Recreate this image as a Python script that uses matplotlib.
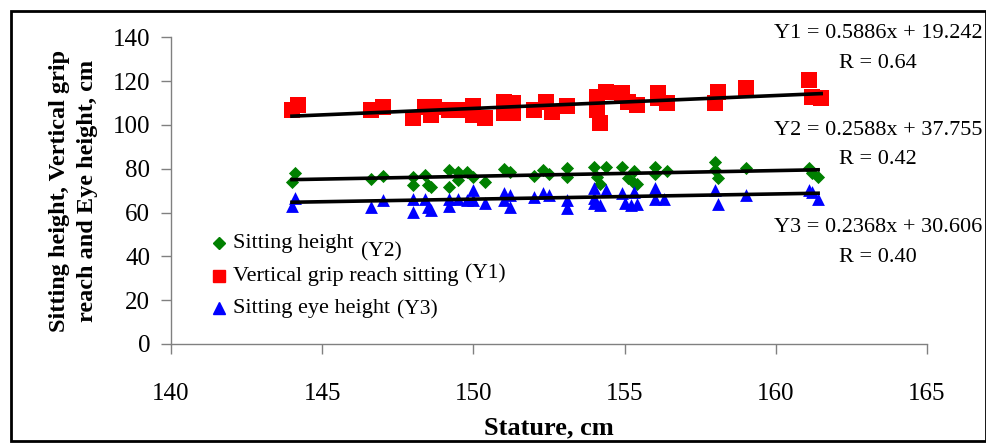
import numpy as np
import matplotlib.pyplot as plt
from matplotlib.patches import Rectangle

plt.rcParams['font.family'] = ['Liberation Serif', 'DejaVu Serif']

# Vertical grip reach sitting (Y1)
x_y1 = [144.0, 144.2, 146.6, 147.0, 148.0, 148.4, 148.6, 148.7, 149.2, 149.6,
        150.0, 150.0, 150.4, 151.0, 151.0, 151.3, 151.3, 152.0, 152.4, 152.6,
        153.1, 154.1, 154.1, 154.2, 154.4, 154.9, 155.1, 155.4, 156.1, 156.1,
        156.4, 158.0, 158.1, 159.0, 161.1, 161.2, 161.5]
y1 = [106.8, 109.1, 106.8, 108.4, 103.3, 108.4, 104.6, 108.4, 106.8, 106.8,
      108.8, 104.4, 103.0, 110.6, 105.3, 109.9, 105.3, 106.8, 110.6, 106.1,
      108.8, 112.9, 106.8, 100.8, 115.2, 114.5, 110.6, 109.1, 114.5, 112.5,
      109.9, 109.9, 115.2, 116.7, 120.5, 112.9, 112.2]

# Sitting height (Y2)
x_y2 = [144.0, 144.1, 146.6, 147.0, 148.0, 148.0, 148.4, 148.5, 148.6, 149.2,
        149.2, 149.5, 149.5, 149.8, 150.0, 150.4, 151.0, 151.2, 152.0, 152.3,
        152.5, 153.1, 153.1, 154.0, 154.1, 154.4, 154.2, 154.9, 155.1, 155.3,
        155.3, 155.4, 156.0, 156.0, 156.4, 158.0, 158.0, 158.1, 159.0, 161.1,
        161.2, 161.4]
y2 = [74.1, 77.9, 75.2, 76.9, 76.4, 72.6, 77.2, 72.6, 71.6, 79.5,
      71.8, 78.7, 74.9, 78.7, 76.4, 74.1, 79.8, 78.7, 76.7, 79.5,
      77.5, 80.2, 76.1, 80.7, 76.4, 81.0, 73.1, 81.0, 75.7, 79.1,
      73.4, 73.1, 81.0, 77.6, 79.1, 83.2, 79.5, 75.7, 80.2, 80.2,
      78.2, 76.4]

# Sitting eye height (Y3)
x_y3 = [144.0, 144.1, 146.6, 147.0, 148.0, 148.0, 148.4, 148.5, 148.6, 149.2,
        149.2, 149.5, 149.8, 150.0, 150.0, 150.4, 151.0, 151.0, 151.2, 151.2,
        152.0, 152.3, 152.5, 153.1, 153.1, 154.0, 154.0, 154.0, 154.2, 154.4,
        154.9, 155.0, 155.2, 155.3, 155.4, 156.0, 156.0, 156.3, 158.0, 158.1,
        159.0, 161.1, 161.2, 161.4]
y3 = [63.0, 66.8, 62.7, 65.8, 66.1, 60.4, 66.1, 62.4, 61.2, 66.1,
      63.2, 66.1, 65.8, 70.3, 65.8, 64.2, 68.8, 65.8, 68.0, 62.7,
      67.3, 68.8, 68.0, 65.8, 62.0, 71.1, 66.5, 64.5, 63.5, 70.3,
      69.1, 64.2, 63.5, 69.5, 63.9, 71.1, 66.1, 66.1, 70.3, 63.9,
      68.0, 70.3, 69.5, 66.1]

# regression equations as printed on the chart
slopes = [0.5886, 0.2588, 0.2368]
intercepts = [19.242, 37.755, 30.606]
r_values = ['0.64', '0.42', '0.40']

fig = plt.figure(figsize=(9.87, 4.43), dpi=100)
ax = fig.add_axes([171/987, 99/443, 756/987, 306.7/443])

ax.scatter(x_y2, y2, marker='D', s=45, color='#008000', zorder=3, linewidths=0)
ax.scatter(x_y1, y1, marker='s', s=130, color='#ff0000', zorder=3, linewidths=0)
ax.scatter(x_y3, y3, marker='^', s=85, color='#0000ff', zorder=3, linewidths=0)

for xs, m, c in zip([x_y1, x_y2, x_y3], slopes, intercepts):
    xl = np.array([min(xs), max(xs)])
    ax.plot(xl, m * xl + c, color='black', lw=2.6, zorder=4)

ax.set_xlim(140, 165)
ax.set_ylim(0, 140)
ax.set_xticks(np.arange(140, 166, 5))
ax.set_yticks(np.arange(0, 141, 20))
for s in ['top', 'right']:
    ax.spines[s].set_visible(False)
for s in ['left', 'bottom']:
    ax.spines[s].set_color('#808080')
    ax.spines[s].set_linewidth(1.0)
ax.tick_params(axis='y', length=7, width=1, color='#808080', labelsize=18, pad=8,
               labelfontfamily='Liberation Serif')
ax.tick_params(axis='x', length=7, width=1, color='#808080', labelsize=18, pad=21,
               labelfontfamily='Liberation Serif')

ax.set_xlabel('Stature, cm', fontsize=19, fontweight='bold', labelpad=8)
ax.set_ylabel('Sitting height, Vertical grip\nreach and Eye height, cm',
              fontsize=17.5, fontweight='bold', linespacing=1.45)
ax.yaxis.set_label_coords(-0.096, 0.5)

# equation annotations
eq_y = [33, 130, 227]
for i in range(3):
    fig.text(878/987, 1 - eq_y[i]/443, f'Y{i+1} = {slopes[i]}x + {intercepts[i]}',
             ha='center', va='center', fontsize=16)
    fig.text(878/987, 1 - (eq_y[i] + 30)/443, f'R = {r_values[i]}',
             ha='center', va='center', fontsize=16)

# legend drawn by hand to keep the offset (Yn) labels
leg_names = ['Sitting height', 'Vertical grip reach sitting', 'Sitting eye height']
leg_tags = ['(Y2)', '(Y1)', '(Y3)']
leg_markers = [('D', '#008000', 6), ('s', '#ff0000', 8), ('^', '#0000ff', 8)]
leg_rows = [243, 276, 308]
leg_tag_dy = [9, -2, 2]
fig.canvas.draw()
renderer = fig.canvas.get_renderer()
for name, tag, (mk, col, ms), row, dy in zip(leg_names, leg_tags, leg_markers, leg_rows, leg_tag_dy):
    fig.lines.append(plt.Line2D([219/987], [1 - row/443], marker=mk, color=col,
                                markersize=ms, linestyle='none', transform=fig.transFigure))
    t = fig.text(233/987, 1 - row/443, name, ha='left', va='center', fontsize=16)
    bb = t.get_window_extent(renderer)
    fig.text(bb.x1/987 + 7/987, 1 - (row + dy)/443, tag, ha='left', va='center', fontsize=15.5)

# outer frame
fig.patches.append(Rectangle((11/987, 2/443), 975/987, 430/443, fill=False,
                             edgecolor='black', lw=2, transform=fig.transFigure))

fig.savefig('out.png', dpi=100)
